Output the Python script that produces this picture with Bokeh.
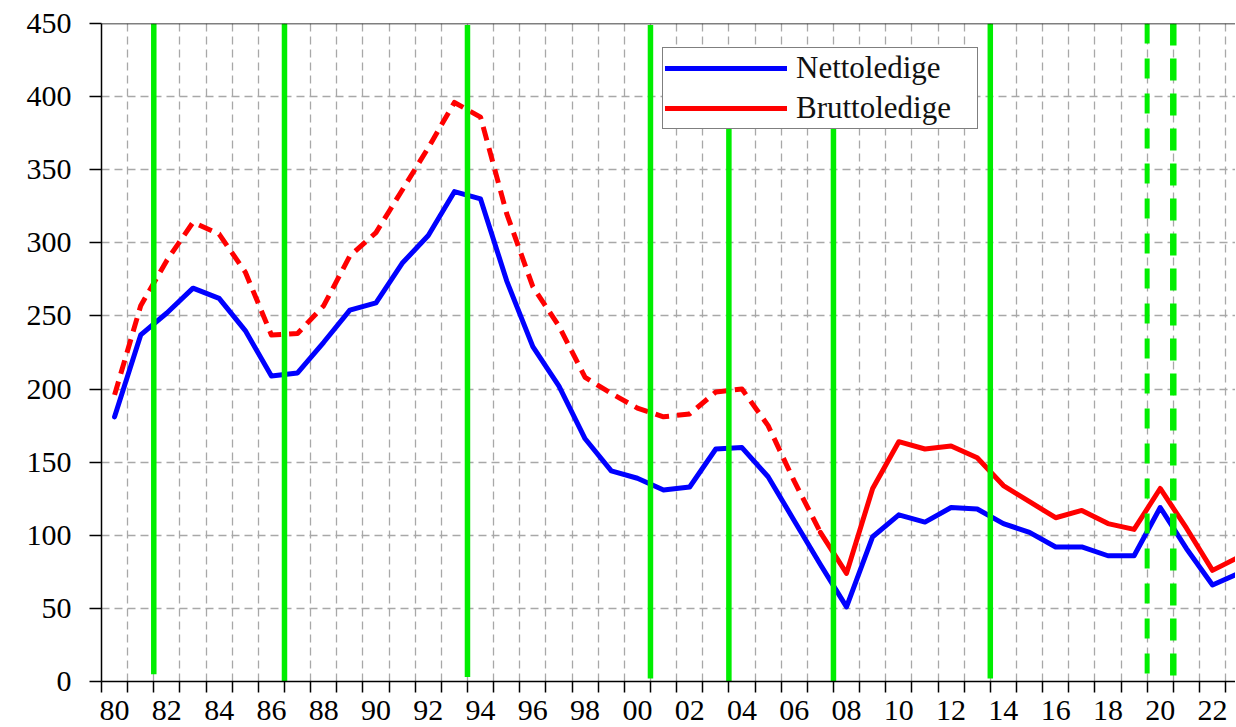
from bokeh.plotting import figure
from bokeh.models import Range1d, FixedTicker, Span, Legend, LegendItem, InlineStyleSheet
from bokeh.embed import file_html
from bokeh.resources import INLINE

# ---- data -------------------------------------------------------------
years = [1980, 1981, 1982, 1983, 1984, 1985, 1986, 1987, 1988, 1989,
         1990, 1991, 1992, 1993, 1994, 1995, 1996, 1997, 1998, 1999,
         2000, 2001, 2002, 2003, 2004, 2005, 2006, 2007, 2008, 2009,
         2010, 2011, 2012, 2013, 2014, 2015, 2016, 2017, 2018, 2019,
         2020, 2021, 2022, 2023]

nettoledige = [181, 237, 252, 269, 262, 240, 209, 211, 232, 254,
               259, 286, 305, 335, 330, 274, 229, 202, 166, 144,
               139, 131, 133, 159, 160, 140, 110, 80, 51, 99,
               114, 109, 119, 118, 108, 102, 92, 92, 86, 86,
               119, 91, 66, 74]

bruttoledige = [196, 257, 288, 314, 306, 280, 237, 238, 257, 291,
                307, 336, 365, 396, 386, 320, 270, 243, 208, 197,
                187, 181, 183, 198, 200, 175, 137, 102, 74, 132,
                164, 159, 161, 153, 134, 123, 112, 117, 108, 104,
                132, 105, 76, 85]

brutto_dashed_until = 2007  # Bruttoledige drawn dashed up to this year

x_label_years = [1980, 1982, 1984, 1986, 1988, 1990, 1992, 1994, 1996, 1998,
                 2000, 2002, 2004, 2006, 2008, 2010, 2012, 2014, 2016, 2018,
                 2020, 2022]
x_labels = ["80", "82", "84", "86", "88", "90", "92", "94", "96", "98",
            "00", "02", "04", "06", "08", "10", "12", "14", "16", "18",
            "20", "22"]
year_boundaries = [y - 0.5 for y in years[:-1]] + [2022.5]
y_ticks = [0, 50, 100, 150, 200, 250, 300, 350, 400, 450]

# turning points (solid green) and covid markers (dashed green)
cycle_x = [1981.5, 1986.5, 1993.5, 2000.5, 2003.5, 2007.5, 2013.5]
cycle_top = [450, 450, 449, 449, 378, 378, 450]
cycle_bottom = [5, 0, 3, 2, 0, 0, 2]
covid_x = [2019.5, 2020.5]

SERIF = "Liberation Serif"

# ---- figure -----------------------------------------------------------
p = figure(width=1235, height=725,
           x_range=Range1d(1979.5, 2022.88), y_range=Range1d(0, 450),
           output_backend="svg", toolbar_location=None,
           min_border_left=101, min_border_right=0,
           min_border_top=23, min_border_bottom=44)
p.outline_line_color = None
p.background_fill_color = "white"
p.stylesheets = [InlineStyleSheet(css="text, .bk-Canvas text, :host text { font-family: 'Liberation Serif', serif !important; }")]

# x axis
p.xaxis.ticker = FixedTicker(ticks=x_label_years, minor_ticks=year_boundaries)
p.xaxis.major_label_overrides = {y: l for y, l in zip(x_label_years, x_labels)}
p.xaxis.major_tick_out = 0
p.xaxis.major_tick_in = 0
p.xaxis.minor_tick_out = 11
p.xaxis.minor_tick_in = 0
p.xaxis.minor_tick_line_color = "black"
p.xaxis.minor_tick_line_width = 1.5
p.xaxis.axis_line_color = "black"
p.xaxis.axis_line_width = 1.5
p.xaxis.major_label_text_font = SERIF
p.xaxis.major_label_text_font_size = "30px"
p.xaxis.major_label_text_color = "black"
p.xaxis.major_label_standoff = 8

# y axis
p.yaxis.ticker = FixedTicker(ticks=y_ticks)
p.yaxis.major_tick_out = 12
p.yaxis.major_tick_in = 0
p.yaxis.major_tick_line_color = "black"
p.yaxis.major_tick_line_width = 1.5
p.yaxis.minor_tick_line_color = None
p.yaxis.axis_line_color = "black"
p.yaxis.axis_line_width = 1.5
p.yaxis.major_label_text_font = SERIF
p.yaxis.major_label_text_font_size = "30px"
p.yaxis.major_label_text_color = "black"
p.yaxis.major_label_standoff = 18

# grids
p.xgrid.ticker = FixedTicker(ticks=year_boundaries)
p.ygrid.ticker = FixedTicker(ticks=y_ticks)
p.grid.grid_line_color = "#a8a8a8"
p.grid.grid_line_dash = "8 5"
p.grid.grid_line_width = 1.3

# top border
p.add_layout(Span(location=450, dimension="width", line_color="black", line_width=1.5))

# ---- series -----------------------------------------------------------
blue = p.line(years, nettoledige, line_color="#0000ff", line_width=5,
              line_join="round", line_cap="round")

split = years.index(brutto_dashed_until)
p.line(years[:split + 1], bruttoledige[:split + 1], line_color="#ff0000",
       line_width=5, line_dash="14 8", line_join="round")
red = p.line(years[split:], bruttoledige[split:], line_color="#ff0000",
             line_width=5, line_join="round", line_cap="round")

# green vertical markers
p.segment(x0=cycle_x, y0=cycle_top, x1=cycle_x, y1=cycle_bottom,
          line_color="#00ee00", line_width=5.5)
p.segment(x0=[covid_x[0]], y0=[450], x1=[covid_x[0]], y1=[0],
          line_color="#00ee00", line_width=5, line_dash="20 15")
p.segment(x0=[covid_x[1]], y0=[450], x1=[covid_x[1]], y1=[0],
          line_color="#00ee00", line_width=6.5, line_dash="22 13")

# ---- legend -----------------------------------------------------------
legend = Legend(
    items=[LegendItem(label="Nettoledige", renderers=[blue]),
           LegendItem(label="Bruttoledige", renderers=[red])],
    location=(561, 552), margin=0, padding=2, spacing=4,
    glyph_width=122, glyph_height=34, label_height=34, label_width=179,
    label_standoff=9,
    label_text_font=SERIF, label_text_font_size="31px",
    label_text_color="#111111",
    border_line_color="black", border_line_width=1.5,
    background_fill_color="white", background_fill_alpha=1.0,
)
p.add_layout(legend)

open("out.html", "w").write(file_html(p, INLINE))
